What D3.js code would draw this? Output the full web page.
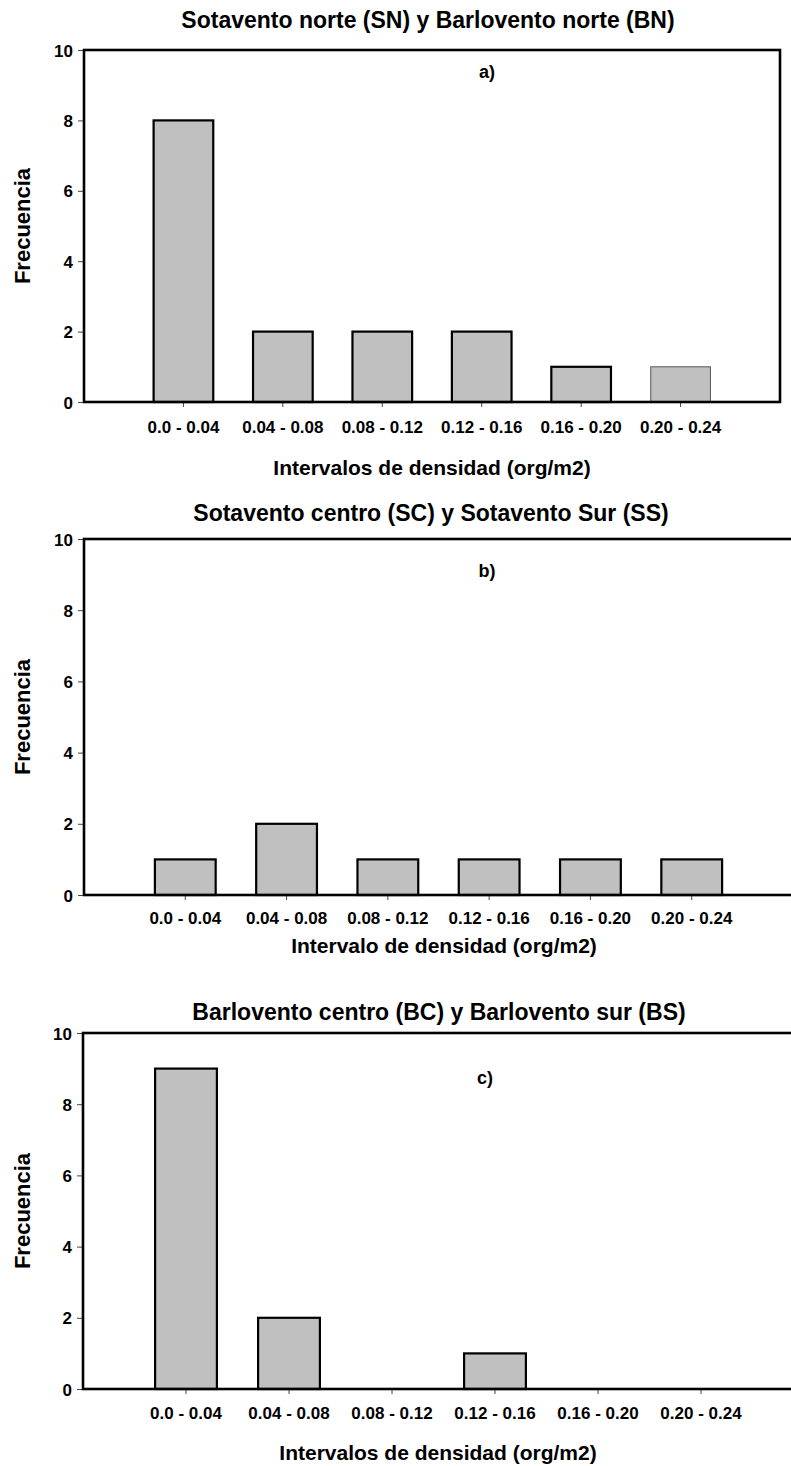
<!DOCTYPE html>
<html>
<head>
<meta charset="utf-8">
<script src="https://cdn.jsdelivr.net/npm/d3@7"></script>
<style>
  html, body { margin: 0; padding: 0; background: #fff; overflow: hidden; }
  svg { display: block; }
  text { font-family: "Liberation Sans", Arial, sans-serif; font-weight: bold; fill: #000; }
</style>
</head>
<body>
<svg id="chart" width="791" height="1466"></svg>
<script>
// Density intervals (org/m2) shared by the three histograms
const categories = ["0.0 - 0.04", "0.04 - 0.08", "0.08 - 0.12", "0.12 - 0.16", "0.16 - 0.20", "0.20 - 0.24"];

// Frequency per interval for each pair of sites
const freqNorth = [8, 2, 2, 2, 1, 1];    // a) SN + BN
const freqLeeward = [1, 2, 1, 1, 1, 1];  // b) SC + SS
const freqWindward = [9, 2, 0, 1, 0, 0]; // c) BC + BS

const yTicks = [0, 2, 4, 6, 8, 10];
const yMax = 10;

const titles = [
  "Sotavento norte (SN) y Barlovento norte (BN)",
  "Sotavento centro (SC) y Sotavento Sur (SS)",
  "Barlovento centro (BC) y Barlovento sur (BS)"
];
const xTitles = [
  "Intervalos de densidad (org/m2)",
  "Intervalo de densidad (org/m2)",
  "Intervalos de densidad (org/m2)"
];
const tags = ["a)", "b)", "c)"];
const yTitle = "Frecuencia";

// Frame geometry of each panel (the lower two run past the right edge)
const panels = [
  { values: freqNorth,    left: 84, right: 780, top: 50,   bottom: 402,  titleX: 428, titleY: 28,   tagX: 487, tagDy: 28, tickY: 31, xTitleX: 432, xTitleY: 73 },
  { values: freqLeeward,  left: 84, right: 793, top: 539,  bottom: 895,  titleX: 431, titleY: 521,  tagX: 487, tagDy: 38, tickY: 29, xTitleX: 444, xTitleY: 58 },
  { values: freqWindward, left: 83, right: 804, top: 1033, bottom: 1389, titleX: 439, titleY: 1020, tagX: 485, tagDy: 51, tickY: 30, xTitleX: 438, xTitleY: 71 }
];

const svg = d3.select("#chart");

panels.forEach((p, i) => {
  const g = svg.append("g");
  const step = (p.right - p.left) / 7;

  const x = d3.scaleBand()
    .domain(categories)
    .range([p.left + step / 2, p.right - step / 2])
    .paddingInner(0.4)
    .paddingOuter(0.2);

  const y = d3.scaleLinear().domain([0, yMax]).range([p.bottom, p.top]);

  // panel title
  g.append("text")
    .attr("x", p.titleX).attr("y", p.titleY)
    .attr("text-anchor", "middle")
    .style("font-size", "23px")
    .text(titles[i]);

  // bars
  const rows = categories.map((c, k) => ({ cat: c, v: p.values[k], k }));
  g.selectAll("rect.bar")
    .data(rows.filter(d => d.v > 0))
    .join("rect")
    .attr("class", "bar")
    .attr("x", d => x(d.cat))
    .attr("width", x.bandwidth())
    .attr("y", d => y(d.v))
    .attr("height", d => y(0) - y(d.v))
    .attr("fill", "#c0c0c0")
    .attr("stroke", d => (i === 0 && d.k === 5) ? "#555" : "#000")
    .attr("stroke-width", d => (i === 0 && d.k === 5) ? 1 : 2.2);

  // y axis
  const ya = g.append("g")
    .attr("transform", `translate(${p.left},0)`)
    .call(d3.axisLeft(y).tickValues(yTicks).tickSize(6).tickPadding(5).tickFormat(d3.format("d")));
  ya.select(".domain").remove();
  ya.selectAll(".tick line").attr("stroke", "#444").attr("stroke-width", 1);
  ya.selectAll(".tick text")
    .style("font-size", "17px")
    .style("font-family", "'Liberation Sans', Arial, sans-serif")
    .style("font-weight", "bold")
    .attr("dy", "0.36em");

  // x axis
  const xa = g.append("g")
    .attr("transform", `translate(0,${p.bottom})`)
    .call(d3.axisBottom(x).tickSize(5).tickPadding(0));
  xa.select(".domain").remove();
  xa.selectAll(".tick line").attr("stroke", "#444").attr("stroke-width", 1);
  xa.selectAll(".tick text")
    .style("font-size", "17px")
    .style("font-family", "'Liberation Sans', Arial, sans-serif")
    .style("font-weight", "bold")
    .attr("y", p.tickY)
    .attr("dy", 0);

  // frame
  g.append("rect")
    .attr("x", p.left).attr("y", p.top)
    .attr("width", p.right - p.left).attr("height", p.bottom - p.top)
    .attr("fill", "none")
    .attr("stroke", "#000")
    .attr("stroke-width", 2.6);

  // panel tag
  g.append("text")
    .attr("x", p.tagX).attr("y", p.top + p.tagDy)
    .attr("text-anchor", "middle")
    .style("font-size", "18px")
    .text(tags[i]);

  // axis titles
  g.append("text")
    .attr("x", p.xTitleX).attr("y", p.bottom + p.xTitleY)
    .attr("text-anchor", "middle")
    .style("font-size", "21px")
    .text(xTitles[i]);

  g.append("text")
    .attr("transform", `translate(30,${(p.top + p.bottom) / 2}) rotate(-90)`)
    .attr("text-anchor", "middle")
    .style("font-size", "22px")
    .text(yTitle);
});
</script>
</body>
</html>
